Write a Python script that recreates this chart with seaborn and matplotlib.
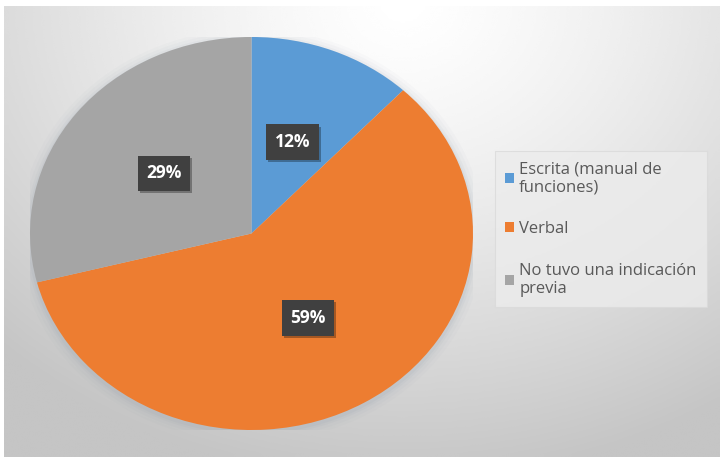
import numpy as np
import matplotlib
matplotlib.use("Agg")
import matplotlib.pyplot as plt
import matplotlib.patheffects as pe
import seaborn as sns
from matplotlib.patches import Ellipse, Patch

sns.set_theme(style="white")
plt.rcParams["font.family"] = ["Open Sans", "DejaVu Sans"]

categories = ["Escrita (manual de\nfunciones)", "Verbal", "No tuvo una indicación\nprevia"]
values = [12, 59, 29]
colors = ["#5B9BD5", "#ED7D31", "#A5A5A5"]

W, H = 722, 457
fig = plt.figure(figsize=(W / 100, H / 100), dpi=100)
fig.patch.set_facecolor("white")

# chart area background: soft radial gradient, bright near the top centre
bg = fig.add_axes([4 / W, 0, 716 / W, (H - 6) / H])
yy, xx = np.mgrid[0:200, 0:360]
cx, cy = 200, 200
d = np.sqrt(((xx - cx) / 360) ** 2 + ((yy - cy) / 260) ** 2)
shade = np.clip(1.0 - 0.30 * d ** 1.3, 0.77, 1.0)
bg.imshow(shade, cmap="gray", vmin=0, vmax=1, aspect="auto", origin="lower",
          extent=[0, 1, 0, 1], interpolation="bicubic")
bg.set_xlim(0, 1)
bg.set_ylim(0, 1)
bg.axis("off")

# pie area
ax = fig.add_axes([30 / W, (H - 430) / H, 443 / W, 393 / H])
ax.set_xlim(-1, 1)
ax.set_ylim(-1, 1)
ax.axis("off")

# soft shadow under the pie
for r, a in [(1.05, 0.03), (1.035, 0.04), (1.02, 0.06), (1.01, 0.08)]:
    ax.add_patch(Ellipse((0.0, -0.01), 2 * r, 2 * r, facecolor="#7f8fa0", alpha=a,
                         edgecolor="none", zorder=0))

wedges, texts, autotexts = ax.pie(
    values, colors=colors, startangle=90, counterclock=False,
    autopct="%1.0f%%", pctdistance=0.5, radius=1.0,
    wedgeprops=dict(edgecolor="none", linewidth=0),
    textprops=dict(color="white", fontsize=12.5, fontweight="bold"),
)
ax.set_aspect("auto")
ax.set_xlim(-1, 1)
ax.set_ylim(-1, 1)
for t in autotexts:
    t.set_bbox(dict(boxstyle="square,pad=0.5", facecolor="#404040", edgecolor="none"))
    t.get_bbox_patch().set_path_effects(
        [pe.SimplePatchShadow(offset=(1.5, -1.5), shadow_rgbFace="black", alpha=0.3),
         pe.Normal()])

handles = [Patch(facecolor=c, edgecolor="none") for c in colors]
leg = fig.legend(handles, categories, loc="upper left",
                 bbox_to_anchor=(495 / W, 1 - 151 / H), frameon=True,
                 fontsize=12, labelcolor="#595959", handlelength=0.55,
                 handleheight=0.55, handletextpad=0.3, labelspacing=1.55,
                 borderpad=0.6, borderaxespad=0, fancybox=False)
leg.get_frame().set_facecolor("#ececec")
leg.get_frame().set_edgecolor("#dadada")
leg.get_frame().set_linewidth(0.8)

fig.savefig("out.png", dpi=100)
